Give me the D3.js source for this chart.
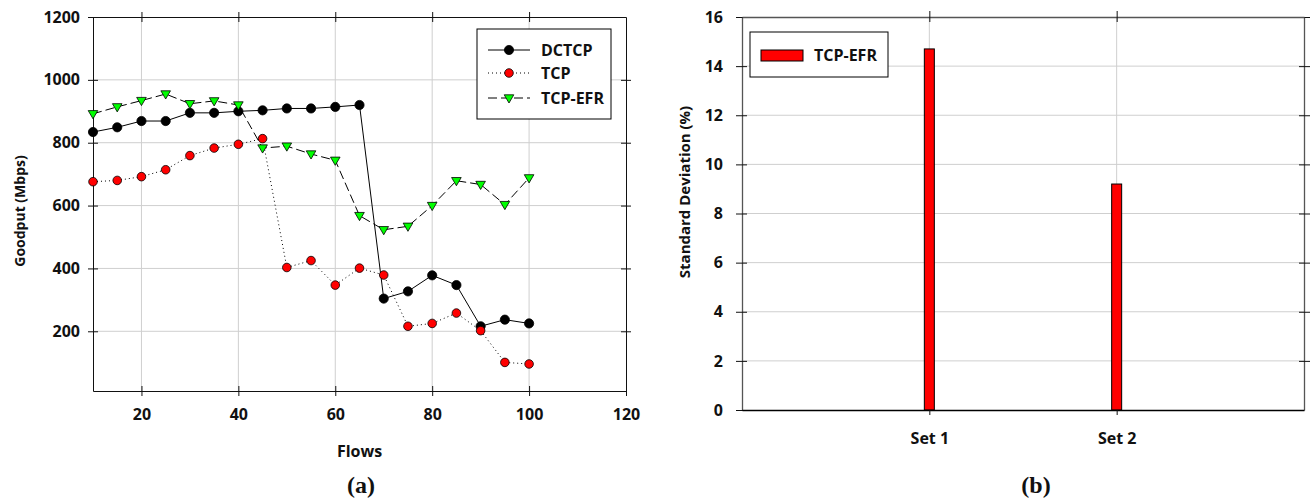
<!DOCTYPE html>
<html>
<head>
<meta charset="utf-8">
<script src="https://cdn.jsdelivr.net/npm/d3@7"></script>
<style>
  body { margin: 0; background: #fff; }
  svg text { font-family: "Open Sans", "Liberation Sans", sans-serif; font-weight: 700; fill: #111; }
</style>
</head>
<body>
<svg id="chart" width="1312" height="499"></svg>
<script>
// data
var flows = [10, 15, 20, 25, 30, 35, 40, 45, 50, 55, 60, 65, 70, 75, 80, 85, 90, 95, 100];
var dctcp = [834, 849, 869, 869, 895, 895, 900, 903, 909, 909, 914, 920, 304, 327, 378, 347, 216, 237, 225];
var tcp = [676, 680, 692, 714, 759, 783, 795, 813, 403, 425, 347, 401, 379, 216, 225, 258, 202, 101, 96];
var tcpEfr = [892, 914, 934, 955, 924, 933, 920, 783, 789, 764, 744, 568, 523, 534, 600, 679, 667, 603, 688];
var xTicks = [20, 40, 60, 80, 100, 120];
var yTicks = [200, 400, 600, 800, 1000, 1200];

var sets = ["Set 1", "Set 2"];
var stdDev = [14.7, 9.2];
var sdTicks = [0, 2, 4, 6, 8, 10, 12, 14, 16];

var svg = d3.select("#chart");
var gridColor = "#cfcfcf";
var fs = "16px";

// ---------- (a) goodput vs flows ----------
var a = {left: 93, top: 17, right: 626, bottom: 391};
var x = d3.scaleLinear().domain([10, 120]).range([a.left, a.right]);
var y = d3.scaleLinear().domain([10, 1200]).range([a.bottom, a.top]);

var ga = svg.append("g");

// grid
ga.selectAll(".vg").data(xTicks.slice(0, -1)).enter().append("line")
    .attr("x1", function(d) { return x(d); }).attr("x2", function(d) { return x(d); })
    .attr("y1", a.top).attr("y2", a.bottom)
    .attr("stroke", gridColor).attr("stroke-width", 1);
ga.selectAll(".hg").data(yTicks.slice(0, -1)).enter().append("line")
    .attr("x1", a.left).attr("x2", a.right)
    .attr("y1", function(d) { return y(d); }).attr("y2", function(d) { return y(d); })
    .attr("stroke", gridColor).attr("stroke-width", 1);

// axes (ticks crossing the frame)
function styleAxis(g) {
  g.selectAll("path").attr("stroke", "#111");
  g.selectAll("line").attr("stroke", "#111");
  g.selectAll("text").style("font-size", fs).attr("fill", "#111");
}
ga.append("g").attr("transform", "translate(0," + a.bottom + ")")
    .call(d3.axisBottom(x).tickValues(xTicks).tickFormat(d3.format("d")).tickSizeInner(-5).tickSizeOuter(0).tickPadding(18))
    .call(styleAxis)
    .call(function(g) { g.selectAll(".tick line").attr("y2", 5).attr("y1", -5); });
ga.append("g").attr("transform", "translate(" + a.left + ",0)")
    .call(d3.axisLeft(y).tickValues(yTicks).tickFormat(d3.format("d")).tickSizeInner(-5).tickSizeOuter(0).tickPadding(13))
    .call(styleAxis)
    .call(function(g) { g.selectAll(".tick line").attr("x1", -5).attr("x2", 5); });
ga.append("g").attr("transform", "translate(0," + a.top + ")")
    .call(d3.axisTop(x).tickValues(xTicks.slice(0, -1)).tickSizeOuter(0).tickFormat(""))
    .call(styleAxis)
    .call(function(g) { g.selectAll(".tick line").attr("y1", -5).attr("y2", 5); });
ga.append("g").attr("transform", "translate(" + a.right + ",0)")
    .call(d3.axisRight(y).tickValues(yTicks.slice(0, -1)).tickSizeOuter(0).tickFormat(""))
    .call(styleAxis)
    .call(function(g) { g.selectAll(".tick line").attr("x1", -5).attr("x2", 5); });

// axis titles
ga.append("text").attr("x", (a.left + a.right) / 2).attr("y", 457)
    .attr("text-anchor", "middle").style("font-size", fs).text("Flows");
ga.append("text").attr("transform", "translate(25,211) rotate(-90)")
    .attr("text-anchor", "middle").style("font-size", "14px").text("Goodput (Mbps)");
ga.append("text").attr("x", 361).attr("y", 493).attr("text-anchor", "middle")
    .style("font-family", "'Liberation Serif', serif").style("font-size", "24px").text("(a)");

// series
var series = [
  {name: "DCTCP", values: dctcp, dash: null, fill: "#000", shape: "circle"},
  {name: "TCP", values: tcp, dash: "1,3", fill: "#ff0000", shape: "circle"},
  {name: "TCP-EFR", values: tcpEfr, dash: "9,4", fill: "#00ff00", shape: "triangle"}
];
var line = d3.line()
    .x(function(d) { return x(d[0]); })
    .y(function(d) { return y(d[1]); });

function drawMarker(g, s, cx, cy) {
  if (s.shape === "circle") {
    g.append("circle").attr("cx", cx).attr("cy", cy).attr("r", s.name === "DCTCP" ? 4.6 : 4.3)
        .attr("fill", s.fill).attr("stroke", "#000").attr("stroke-width", 0.8);
  } else {
    g.append("path")
        .attr("d", "M" + (cx - 4.8) + "," + (cy - 3.2) + "L" + (cx + 4.8) + "," + (cy - 3.2) + "L" + cx + "," + (cy + 5) + "Z")
        .attr("fill", s.fill).attr("stroke", "#000").attr("stroke-width", 0.8);
  }
}

series.forEach(function(s) {
  var pts = flows.map(function(f, i) { return [f, s.values[i]]; });
  ga.append("path").datum(pts).attr("d", line)
      .attr("fill", "none").attr("stroke", "#000").attr("stroke-width", 1)
      .attr("stroke-dasharray", s.dash);
});
series.forEach(function(s) {
  flows.forEach(function(f, i) { drawMarker(ga, s, x(f), y(s.values[i])); });
});

// legend
var lg = ga.append("g");
lg.append("rect").attr("x", 477).attr("y", 29).attr("width", 134).attr("height", 90)
    .attr("fill", "#fff").attr("stroke", "#000").attr("stroke-width", 1);
var legendRows = [50, 73, 98];
series.forEach(function(s, i) {
  var ly = legendRows[i];
  lg.append("line").attr("x1", 488).attr("x2", 530).attr("y1", ly).attr("y2", ly)
      .attr("stroke", "#000").attr("stroke-width", 1).attr("stroke-dasharray", s.dash);
  drawMarker(lg, s, 509, ly);
  lg.append("text").attr("x", 541).attr("y", ly + 6).style("font-size", fs).text(s.name);
});

// ---------- (b) standard deviation ----------
var b = {left: 742, top: 17, right: 1304, bottom: 410};
var xb = d3.scalePoint().domain(sets).range([b.left, b.right]).padding(1);
var yb = d3.scaleLinear().domain([0, 16]).range([b.bottom, b.top]);
var gb = svg.append("g");

gb.selectAll(".hg").data(sdTicks.slice(1, -1)).enter().append("line")
    .attr("x1", b.left).attr("x2", b.right)
    .attr("y1", function(d) { return yb(d); }).attr("y2", function(d) { return yb(d); })
    .attr("stroke", gridColor).attr("stroke-width", 1);
gb.selectAll(".vg").data(sets).enter().append("line")
    .attr("x1", function(d) { return xb(d); }).attr("x2", function(d) { return xb(d); })
    .attr("y1", b.top).attr("y2", b.bottom)
    .attr("stroke", gridColor).attr("stroke-width", 1);

function styleAxisB(g) {
  g.selectAll("path").attr("stroke", "#555").attr("stroke-width", 1.3);
  g.selectAll("line").attr("stroke", "#111");
  g.selectAll("text").style("font-size", fs).attr("fill", "#111");
}
gb.append("g").attr("transform", "translate(" + b.left + ",0)")
    .call(d3.axisLeft(yb).tickValues(sdTicks).tickSizeOuter(0).tickPadding(13))
    .call(styleAxisB)
    .call(function(g) { g.selectAll(".tick line").attr("x1", -6).attr("x2", 5); });
gb.append("g").attr("transform", "translate(" + b.right + ",0)")
    .call(d3.axisRight(yb).tickValues(sdTicks.slice(1)).tickSizeOuter(0).tickFormat(""))
    .call(styleAxisB)
    .call(function(g) { g.selectAll(".tick line").attr("x1", -5).attr("x2", 6); });
gb.append("g").attr("transform", "translate(0," + b.top + ")")
    .call(d3.axisTop(xb).tickSizeOuter(0).tickFormat(""))
    .call(styleAxisB)
    .call(function(g) { g.selectAll(".tick line").attr("y1", -6).attr("y2", 5); });

// bars
var barW = 10;
gb.selectAll(".bar").data(stdDev).enter().append("rect")
    .attr("x", function(d, i) { return xb(sets[i]) - barW / 2; })
    .attr("y", function(d) { return yb(d); })
    .attr("width", barW)
    .attr("height", function(d) { return yb(0) - yb(d); })
    .attr("fill", "#ff0000").attr("stroke", "#000").attr("stroke-width", 1);

gb.append("g").attr("transform", "translate(0," + b.bottom + ")")
    .call(d3.axisBottom(xb).tickSizeInner(5).tickSizeOuter(0).tickPadding(18))
    .call(styleAxisB)
    .call(function(g) { g.select("path").attr("stroke", "#000"); });

gb.append("text").attr("transform", "translate(690,192) rotate(-90)")
    .attr("text-anchor", "middle").style("font-size", "15px").text("Standard Deviation (%)");
gb.append("text").attr("x", 1036).attr("y", 493).attr("text-anchor", "middle")
    .style("font-family", "'Liberation Serif', serif").style("font-size", "24px").text("(b)");

// legend
var lb = gb.append("g");
lb.append("rect").attr("x", 750).attr("y", 32).attr("width", 138).attr("height", 45)
    .attr("fill", "#fff").attr("stroke", "#000").attr("stroke-width", 1);
lb.append("rect").attr("x", 761).attr("y", 50).attr("width", 42).attr("height", 11)
    .attr("fill", "#ff0000").attr("stroke", "#000").attr("stroke-width", 1);
lb.append("text").attr("x", 814).attr("y", 61).style("font-size", fs).text("TCP-EFR");
</script>
</body>
</html>
